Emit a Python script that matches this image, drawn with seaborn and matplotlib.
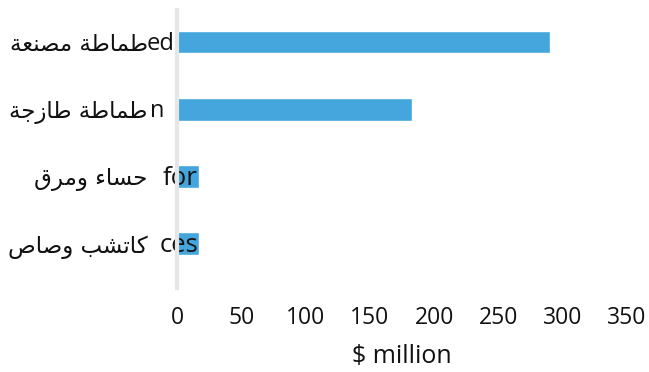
import unicodedata
import matplotlib
matplotlib.use("Agg")
import matplotlib.pyplot as plt
import matplotlib.transforms as mtransforms
import pandas as pd
import seaborn as sns

# Data
categories = ["طماطة مصنعة", "طماطة طازجة", "حساء ومرق", "كاتشب وصاص"]
values = [290, 183, 17, 17]
overlay_fragments = ["ed", "n", "for", "ces"]
xticks = [0, 50, 100, 150, 200, 250, 300, 350]
xlabel = "$ million"

# Minimal Arabic shaping: pick contextual presentation forms, then reverse for display
RIGHT_JOINING = set("اأإآدذرزوؤة")
NON_JOINING = set("ء")


def is_arabic_letter(ch):
    return "\u0621" <= ch <= "\u064a"


def joins_forward(ch):
    return is_arabic_letter(ch) and ch not in RIGHT_JOINING and ch not in NON_JOINING


def joins_backward(ch):
    return is_arabic_letter(ch) and ch not in NON_JOINING


def form(ch, suffix):
    try:
        return unicodedata.lookup(unicodedata.name(ch) + " " + suffix)
    except KeyError:
        return ch


def shape(text):
    out = []
    for i, ch in enumerate(text):
        if not is_arabic_letter(ch):
            out.append(ch)
            continue
        prev = text[i - 1] if i > 0 else ""
        nxt = text[i + 1] if i + 1 < len(text) else ""
        jp = bool(prev) and joins_forward(prev) and joins_backward(ch)
        jn = bool(nxt) and joins_forward(ch) and joins_backward(nxt)
        if jp and jn:
            out.append(form(ch, "MEDIAL FORM"))
        elif jp:
            out.append(form(ch, "FINAL FORM"))
        elif jn:
            out.append(form(ch, "INITIAL FORM"))
        else:
            out.append(form(ch, "ISOLATED FORM"))
    return "".join(reversed(out))


sns.set_theme(style="white")
plt.rcParams["font.family"] = ["Open Sans", "DejaVu Sans"]

df = pd.DataFrame({"category": categories, "value": values})

fig = plt.figure(figsize=(6.49, 3.72), dpi=100)
ax = fig.add_axes([0.2727, 0.2258, 0.6934, 0.7473])

sns.barplot(data=df, x="value", y="category", orient="h", color="#44A6DD",
            saturation=1, width=0.34, ax=ax, zorder=1)

ax.set_xlim(0, 350)
ax.set_ylim(3.655, -0.475)
ax.set_xticks(xticks)
ax.set_xticklabels([str(t) for t in xticks], fontsize=16.5, color="#111111")
ax.set_xlabel(xlabel, fontsize=18, color="#111111", labelpad=10)
ax.set_ylabel("")

for side in ["top", "right", "bottom"]:
    ax.spines[side].set_visible(False)
ax.spines["left"].set_color("#E6E6E6")
ax.spines["left"].set_linewidth(3)
ax.tick_params(axis="x", length=0, pad=13)
ax.tick_params(axis="y", length=0, pad=21)

# Leftover text fragments beside the axis labels
frag_offsets = [-2, -13, 21, 21]
frag_sizes = [17, 17, 18.5, 18.5]
for i, (frag, off, fs) in enumerate(zip(overlay_fragments, frag_offsets, frag_sizes)):
    trans = mtransforms.offset_copy(
        mtransforms.blended_transform_factory(ax.transAxes, ax.transData),
        fig=fig, x=off * 72 / 100, y=-2 * 72 / 100, units="points")
    ax.text(0, i, frag, transform=trans, ha="right", va="center",
            fontsize=fs, color="#111111", zorder=2)

ax.set_yticks(range(len(categories)))
ax.set_yticklabels([shape(c) for c in categories], fontsize=16.5,
                   family=["DejaVu Sans"], color="#111111")
for lbl in ax.get_yticklabels():
    lbl.set_bbox(dict(facecolor="white", edgecolor="none", pad=0.3))

fig.savefig("out.png", dpi=100)
